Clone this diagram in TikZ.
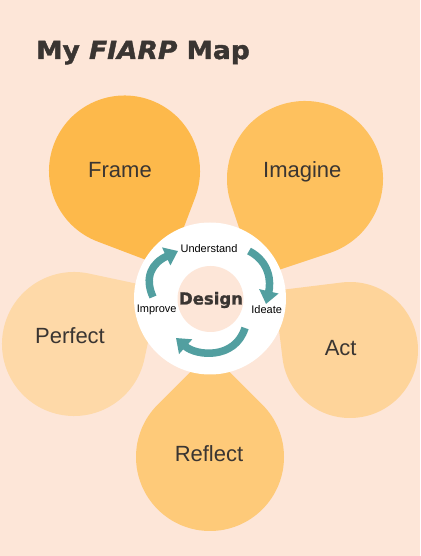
\documentclass[tikz,border=0pt]{standalone}
\usepackage{fontspec}
\setmainfont{Liberation Sans}
\newfontfamily\heavyfont[FakeBold=1.2]{DejaVu Sans}
\newfontfamily\titlefont[FakeStretch=1.06,FakeBold=1.6]{DejaVu Sans}
\usetikzlibrary{arrows.meta}
\definecolor{bg}{HTML}{FDE6D8}
\definecolor{cframe}{HTML}{FDB94B}
\definecolor{cimagine}{HTML}{FEC15E}
\definecolor{cperfect}{HTML}{FED9A8}
\definecolor{cact}{HTML}{FED49A}
\definecolor{creflect}{HTML}{FECA79}
\definecolor{txt}{HTML}{3A3532}
\definecolor{teal}{HTML}{529FA0}
\newcommand\petal[5]{%
  \fill[#1, shift={(#2,#3)}] (#5+45:#4pt) arc[start angle=#5+45, end angle=#5+315, radius=#4pt]
    -- (#5:{#4*1.41421pt}) -- cycle;}
\tikzset{
  petallabel/.style={text=txt, font=\fontsize{22}{26}\selectfont, inner sep=0},
  steplabel/.style={text=black, font=\fontsize{11}{13}\selectfont, inner sep=0},
  cyclearrow/.style={draw=teal, line width=7.5pt, -{Triangle[width=19pt,length=13pt]}},
}
\begin{document}
\begin{tikzpicture}[x=1pt,y=1pt]
\fill[bg] (0,0) rectangle (420,556);
\useasboundingbox (0,0) rectangle (420,556);

\node[anchor=base west, inner sep=0, text=txt, font=\fontsize{25}{30}\selectfont\titlefont\bfseries] (title) at (36,497) {My \textit{FIARP} Map};

\petal{cframe}{124.5}{385}{75.5}{-65.8}
\petal{cimagine}{305}{377}{78}{-116.6}
\petal{cperfect}{74}{212}{72}{33}
\petal{cact}{350}{206}{68}{142}
\petal{creflect}{210}{99}{74}{90}

\node[petallabel] (frame) at (120,386) {Frame};
\node[petallabel] (imagine) at (302.3,384.3) {Imagine};
\node[petallabel] (perfect) at (70,220) {Perfect};
\node[petallabel] (act) at (340.7,207.7) {Act};
\node[petallabel] (reflect) at (209,102) {Reflect};

\fill[white] (210,257.5) circle[radius=76pt];
\fill[bg] (210.5,257) circle[radius=33pt];

\node[text=txt, inner sep=0, font=\fontsize{16.5}{20}\selectfont\heavyfont\bfseries] (design) at (211,256) {Design};
\node[steplabel] (understand) at (209,307.7) {Understand};
\node[steplabel] (ideate) at (266.7,246) {Ideate};
\node[steplabel] (improve) at (156.7,246) {Improve};

\coordinate (a1) at (153,259);
\coordinate (a2) at (178,305);
\coordinate (b1) at (249,305);
\coordinate (b2) at (266,252);
\coordinate (c1) at (245,228);
\coordinate (c2) at (176,218);
\draw[cyclearrow] (a1) .. controls (144,279) and (152,293) .. (a2);
\draw[cyclearrow] (b1) .. controls (270,294) and (271,274) .. (b2);
\draw[cyclearrow] (c1) .. controls (235,196) and (196,200) .. (c2);
\end{tikzpicture}
\end{document}
